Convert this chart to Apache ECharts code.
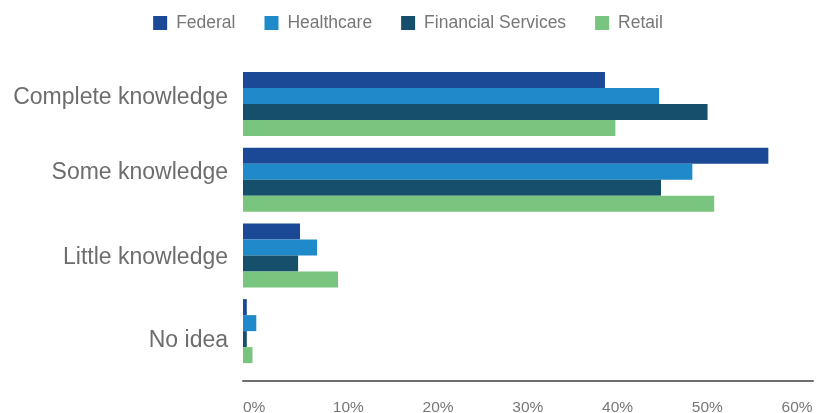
<!DOCTYPE html>
<html><head><meta charset="utf-8">
<script src="https://cdn.jsdelivr.net/npm/echarts@6/dist/echarts.min.js"></script>
<style>html,body{margin:0;padding:0;background:#fff}#c{width:816px;height:413px}</style>
</head><body><div id="c"></div>
<script>
const categories = ['Complete knowledge', 'Some knowledge', 'Little knowledge', 'No idea'];
const federal = [38.1, 55.3, 6.0, 0.4];
const healthcare = [43.8, 47.3, 7.8, 1.4];
const financial = [48.9, 44.0, 5.8, 0.4];
const retail = [39.2, 49.6, 10.0, 1.0];
const seriesNames = ['Federal', 'Healthcare', 'Financial Services', 'Retail'];
const colors = ['#1b4995', '#1e8ac9', '#164f6c', '#79c580'];
const tickLabels = ['0%', '10%', '20%', '30%', '40%', '50%', '60%'];

const chart = echarts.init(document.getElementById('c'));
const font = 'Liberation Sans, Arial, sans-serif';
const mk = (name, data, i) => ({
  name, type: 'bar', data, barWidth: 16, barGap: '0%',
  itemStyle: { color: colors[i] }, xAxisIndex: 0
});
const lab = { color: '#6d6d6d', fontSize: 23, fontFamily: font };
chart.setOption({
  animation: false,
  legend: {
    top: 9, left: 'center', itemWidth: 14, itemHeight: 14, itemGap: 29,
    icon: 'rect',
    textStyle: { color: '#777', fontSize: 17.5, fontFamily: font, padding: [0, 0, 0, 4] },
    data: seriesNames
  },
  grid: { left: 243, right: 3, top: 66, bottom: 44, containLabel: false, outerBoundsMode: 'none' },
  xAxis: [
    { type: 'value', min: 0, max: 60, show: false },
    { type: 'value', min: 0, max: 63.5, interval: 10, position: 'bottom', offset: 12,
      axisLine: { show: true, lineStyle: { color: '#6e6e6e', width: 2 } },
      axisTick: { show: false }, splitLine: { show: false },
      axisLabel: { showMaxLabel: false, align: 'left', margin: 19, color: '#777', fontSize: 15.5, fontFamily: font,
        formatter: v => tickLabels[Math.round(v / 10)] || '' } }
  ],
  yAxis: {
    type: 'category', data: categories, inverse: true,
    axisLine: { show: false }, axisTick: { show: false },
    axisLabel: {
      color: '#6d6d6d', fontSize: 23, fontFamily: font, margin: 15,
      formatter: (v, i) => '{c' + i + '|' + v + '}',
      rich: {
        c0: Object.assign({ padding: [0, 0, 12, 0] }, lab),
        c1: Object.assign({ padding: [0, 0, 13, 0] }, lab),
        c2: Object.assign({ padding: [5, 0, 0, 0] }, lab),
        c3: Object.assign({ padding: [20, 0, 0, 0] }, lab)
      }
    }
  },
  series: [mk(seriesNames[0], federal, 0), mk(seriesNames[1], healthcare, 1), mk(seriesNames[2], financial, 2), mk(seriesNames[3], retail, 3)]
});
</script></body></html>
